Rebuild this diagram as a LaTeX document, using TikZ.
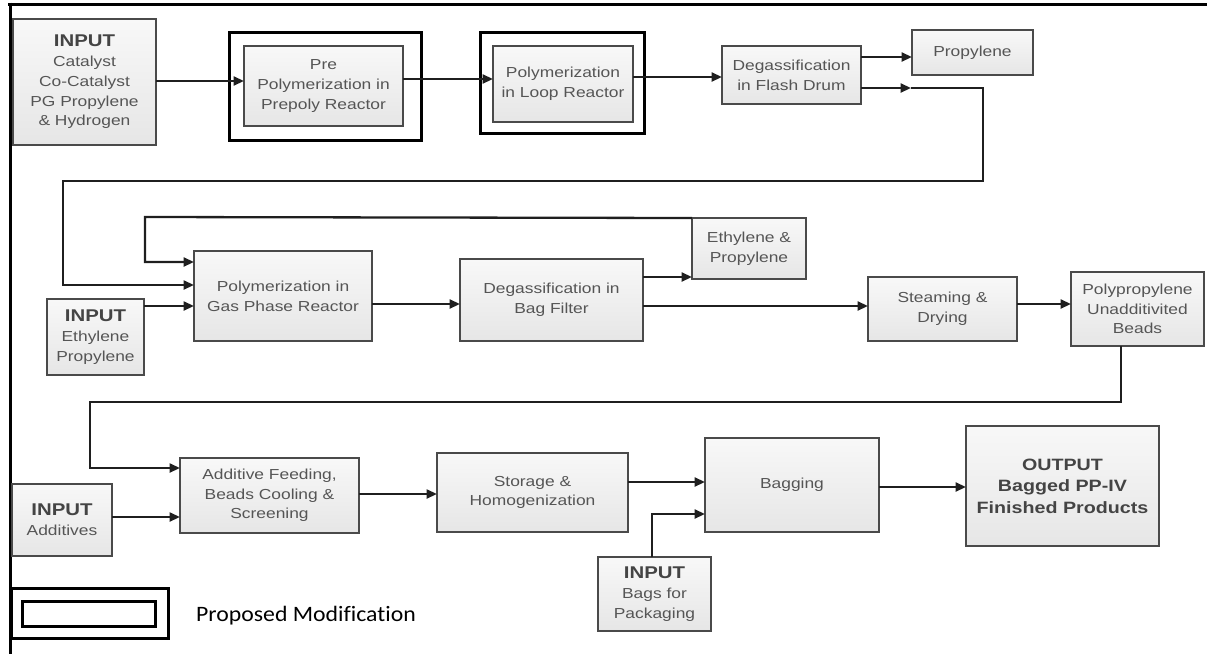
\documentclass[tikz,border=0pt]{standalone}
\usepackage{fontspec}
\setmainfont{Liberation Sans}[FakeStretch=1.2]
\newfontfamily\legendfont{Carlito}[FakeStretch=1.08,Ligatures=NoCommon]
\usetikzlibrary{arrows.meta}
\definecolor{txt}{HTML}{555555}
\definecolor{head}{HTML}{444444}
\definecolor{boxline}{HTML}{4A4A4A}
\definecolor{boxtop}{HTML}{F8F8F8}
\definecolor{boxbot}{HTML}{E6E6E6}
\newcommand\hd[1]{{\fontsize{17}{20}\selectfont\bfseries\color{head}#1}}
\begin{document}
\begin{tikzpicture}[x=1pt,y=-1pt,
  blk/.style={draw=boxline, line width=1.4pt, top color=boxtop, bottom color=boxbot,
    inner sep=0pt, outer sep=0pt, align=center, text=txt,
    font=\fontsize{14.5}{19.7}\selectfont},
  modframe/.style={draw=black, line width=3pt, inner sep=0pt, outer sep=0pt},
  conn/.style={line width=2.3pt, draw=black!88, -{Triangle[length=10.5pt,width=9pt]}}]
\useasboundingbox (0,0) rectangle (1207,654);

% page frame
\draw[line width=3pt] (8,4) -- (1207,4);
\draw[line width=3pt] (10,2.5) -- (10,654);

% highlighted units (proposed modification)
\node[modframe, minimum width=192pt, minimum height=108pt] (preframe) at (325,86) {};
\node[modframe, minimum width=164pt, minimum height=101pt] (loopframe) at (562,82.5) {};

% row 1
\node[blk, minimum width=143pt, minimum height=126pt] (in1) at (84.5,82)
  {\hd{INPUT}\\Catalyst\\Co-Catalyst\\PG Propylene\\\& Hydrogen};
\node[blk, minimum width=159pt, minimum height=80pt] (pre) at (323.5,86)
  {Pre\\Polymerization in\\Prepoly Reactor};
\node[blk, minimum width=140pt, minimum height=76pt] (loop) at (563,84)
  {Polymerization\\in Loop Reactor};
\node[blk, minimum width=139pt, minimum height=58pt] (flash) at (791.5,75)
  {Degassification\\in Flash Drum};
\node[blk, minimum width=121pt, minimum height=45pt] (prop) at (972.5,52.5)
  {Propylene};

% row 2
\node[blk, minimum width=178pt, minimum height=90pt] (gp) at (283,296)
  {Polymerization in\\Gas Phase Reactor};
\node[blk, minimum width=97pt, minimum height=76pt] (in2) at (95.5,337)
  {\hd{INPUT}\\Ethylene\\Propylene};
\node[blk, minimum width=183pt, minimum height=82pt] (bag) at (551.5,300)
  {Degassification in\\Bag Filter};
\node[blk, minimum width=114pt, minimum height=61pt] (ep) at (749,248.5)
  {Ethylene \&\\Propylene};
\node[blk, minimum width=149pt, minimum height=64pt] (steam) at (942.5,309)
  {Steaming \&\\Drying};
\node[blk, minimum width=133pt, minimum height=74pt] (beads) at (1137.5,309)
  {Polypropylene\\Unadditivited\\Beads};

% row 3
\node[blk, minimum width=179pt, minimum height=75pt] (addf) at (269.5,495.5)
  {Additive Feeding,\\Beads Cooling \&\\Screening};
\node[blk, minimum width=100pt, minimum height=72pt] (in3) at (62,520)
  {\hd{INPUT}\\Additives};
\node[blk, minimum width=191pt, minimum height=79pt] (stor) at (532.5,492.5)
  {Storage \&\\Homogenization};
\node[blk, minimum width=174pt, minimum height=94pt] (bagg) at (792,485)
  {Bagging};
\node[blk, minimum width=113pt, minimum height=74pt] (in4) at (654.5,594)
  {\hd{INPUT}\\Bags for\\Packaging};
\node[blk, minimum width=193pt, minimum height=120pt, text=head,
  font=\fontsize{16.4}{21.5}\selectfont\bfseries] (out) at (1062.5,486)
  {OUTPUT\\Bagged PP-IV\\Finished Products};

% legend
\node[modframe, minimum width=157pt, minimum height=50pt] (legout) at (89.5,613) {};
\node[modframe, minimum width=133pt, minimum height=25pt] (legin) at (88.5,613.5) {};
\node[anchor=west, inner sep=0pt, text=black,
  font=\legendfont\fontsize{22}{26}\selectfont] (legtxt) at (196,616)
  {Proposed Modification};

% main line, row 1
\draw[conn] (in1.east |- 0,81) -- (pre.west |- 0,81);
\draw[conn] (pre.east |- 0,79) -- (loop.west |- 0,79);
\draw[conn] (loop.east |- 0,77) -- (flash.west |- 0,77);
\draw[conn] (flash.east |- 0,57) -- (prop.west |- 0,57);

% flash drum product to gas phase reactor
\coordinate (fd) at (911,88);
\draw[conn] (flash.east |- 0,88) -- (fd);
\draw[conn] (fd) -- (983,88) -- (983,181) -- (63,181) -- (63,285) -- (gp.west |- 0,285);

% recycle of ethylene and propylene
\draw[conn] (ep.north west) -- (145,217) -- (145,262) -- (gp.west |- 0,262);

% row 2
\draw[conn] (in2.east |- 0,306) -- (gp.west |- 0,306);
\draw[conn] (gp.east |- 0,304) -- (bag.west |- 0,304);
\draw[conn] (bag.east |- 0,277) -- (ep.west |- 0,277);
\draw[conn] (bag.east |- 0,306) -- (steam.west |- 0,306);
\draw[conn] (steam.east |- 0,304) -- (beads.west |- 0,304);

% beads to additive feeding
\draw[conn] (beads.south -| 1121,0) -- (1121,402) -- (90,402) -- (90,468) -- (addf.west |- 0,468);

% row 3
\draw[conn] (in3.east |- 0,517) -- (addf.west |- 0,517);
\draw[conn] (addf.east |- 0,494) -- (stor.west |- 0,494);
\draw[conn] (stor.east |- 0,482) -- (bagg.west |- 0,482);
\draw[conn] (in4.north -| 652,0) -- (652,514) -- (bagg.west |- 0,514);
\draw[conn] (bagg.east |- 0,487) -- (out.west |- 0,487);
\end{tikzpicture}
\end{document}
